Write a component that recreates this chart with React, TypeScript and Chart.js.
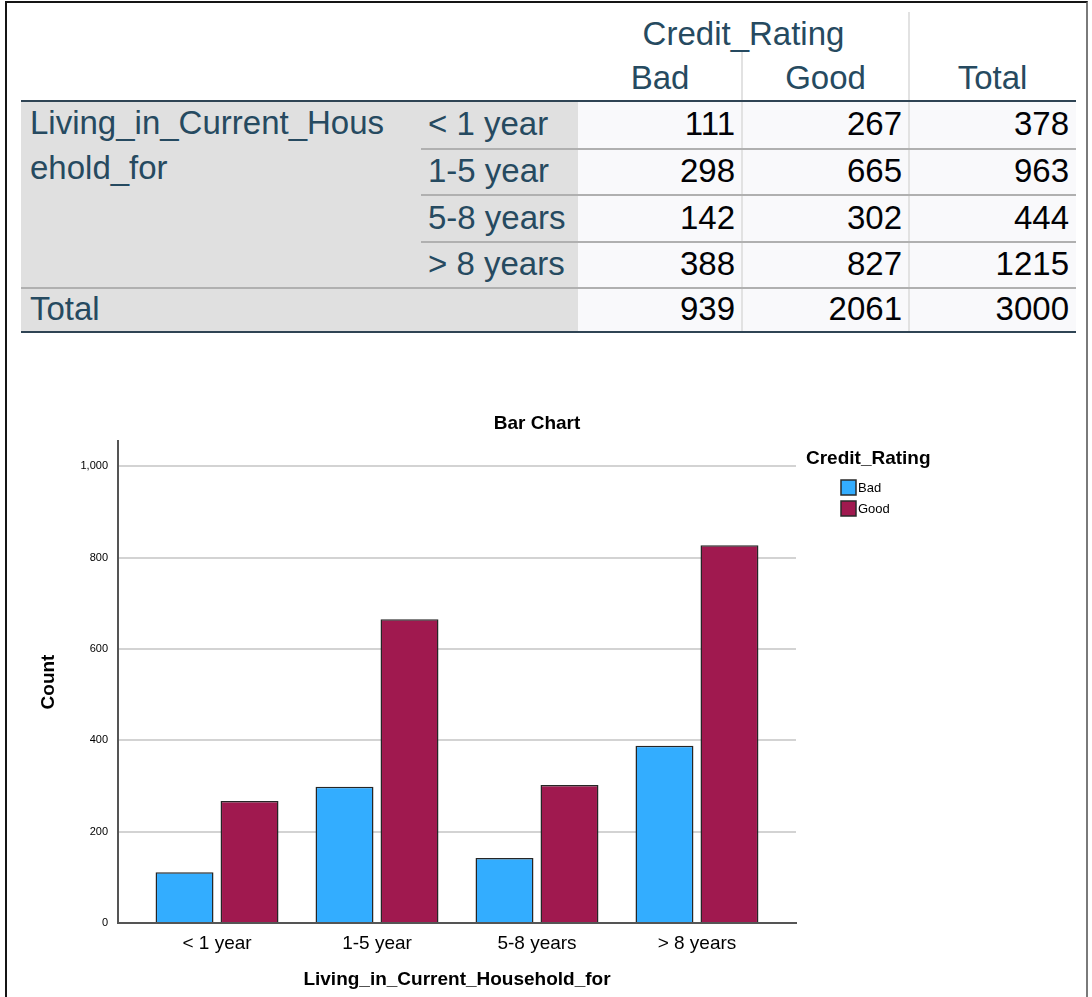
import React, { useEffect, useRef } from 'react';
import { Chart, registerables } from 'chart.js';

Chart.register(...registerables);

const FONT = 'Arial, "Liberation Sans", Helvetica, sans-serif';

// ---- data ----
const CATEGORIES = ['< 1 year', '1-5 year', '5-8 years', '> 8 years'];
const SERIES = ['Bad', 'Good'];
const BAD = [111, 298, 142, 388];
const GOOD = [267, 665, 302, 827];
const ROW_TOTALS = [378, 963, 444, 1215];
const COL_TOTALS = [939, 2061, 3000];
const Y_TICK_STEP = 200;
const Y_MAX = 1055;
const ROW_VAR_LINES = ['Living_in_Current_Hous', 'ehold_for'];
const COL_VAR = 'Credit_Rating';
const TOTAL_LABEL = 'Total';
const CHART_TITLE = 'Bar Chart';
const Y_TITLE = 'Count';
const X_TITLE = 'Living_in_Current_Household_for';
const COLORS = ['#33adff', '#a0194f'];

// ---- table layout ----
const COLX = [21, 421, 578, 742, 909, 1076];
const ROWY = [101, 149, 195, 242, 288, 332];
const HEAD_COLOR = '#264a60';
const TABLE_FONT = 33;

const abs = (left: number, top: number, width: number, height: number, extra: any = {}) => ({
  position: 'absolute' as const,
  left,
  top,
  width,
  height,
  ...extra,
});

function CrossTable() {
  const items: any[] = [];
  items.push(<div key="gbg" style={abs(COLX[0], ROWY[0], COLX[2] - COLX[0], ROWY[5] - ROWY[0], { background: '#e0e0e0' })} />);
  items.push(<div key="dbg" style={abs(COLX[2], ROWY[0], COLX[5] - COLX[2], ROWY[5] - ROWY[0], { background: '#f9f9fb' })} />);
  items.push(<div key="v1" style={abs(COLX[4] - 1, 12, 2, ROWY[5] - 12, { background: '#e2e2e2' })} />);
  items.push(<div key="v2" style={abs(COLX[3] - 1, 50, 2, ROWY[5] - 50, { background: '#e2e2e2' })} />);
  for (let i = 1; i < 4; i++) {
    items.push(<div key={'h' + i} style={abs(COLX[1], ROWY[i] - 1, COLX[5] - COLX[1], 2, { background: '#b0b0b0' })} />);
  }
  items.push(<div key="h4" style={abs(COLX[0], ROWY[4] - 1, COLX[5] - COLX[0], 2, { background: '#b0b0b0' })} />);
  items.push(<div key="h0" style={abs(COLX[0], ROWY[0] - 1, COLX[5] - COLX[0], 2, { background: '#2f4454' })} />);
  items.push(<div key="h5" style={abs(COLX[0], ROWY[5] - 1, COLX[5] - COLX[0], 2, { background: '#2f4454' })} />);

  const txt = { fontFamily: FONT, fontSize: TABLE_FONT, whiteSpace: 'nowrap' as const };
  items.push(
    <div key="cv" style={abs(COLX[2], 12, COLX[4] - COLX[2], 43, { ...txt, color: HEAD_COLOR, textAlign: 'center', lineHeight: '43px' })}>{COL_VAR}</div>
  );
  const heads = [...SERIES, TOTAL_LABEL];
  heads.forEach((h, j) => {
    items.push(
      <div key={'hd' + j} style={abs(COLX[2 + j], 55, COLX[3 + j] - COLX[2 + j], 46, { ...txt, color: HEAD_COLOR, textAlign: 'center', lineHeight: '46px' })}>{h}</div>
    );
  });
  items.push(
    <div key="rv" style={abs(COLX[0] + 9, ROWY[0] - 1, COLX[1] - COLX[0] - 9, 100, { ...txt, color: HEAD_COLOR, lineHeight: '45px' })}>
      {ROW_VAR_LINES.map((l, i) => (<div key={i}>{l}</div>))}
    </div>
  );
  CATEGORIES.forEach((c, i) => {
    const top = ROWY[i] - 1;
    const h = ROWY[i + 1] - ROWY[i];
    items.push(
      <div key={'rl' + i} style={abs(COLX[1] + 7, top, COLX[2] - COLX[1] - 7, h, { ...txt, color: HEAD_COLOR, lineHeight: h + 'px' })}>{c}</div>
    );
    const vals = [BAD[i], GOOD[i], ROW_TOTALS[i]];
    vals.forEach((v, j) => {
      items.push(
        <div key={'c' + i + '_' + j} style={abs(COLX[2 + j], top, COLX[3 + j] - COLX[2 + j] - 7, h, { ...txt, color: '#010205', textAlign: 'right', lineHeight: h + 'px' })}>{v}</div>
      );
    });
  });
  {
    const top = ROWY[4] - 1;
    const h = ROWY[5] - ROWY[4];
    items.push(
      <div key="tl" style={abs(COLX[0] + 9, top, 300, h, { ...txt, color: HEAD_COLOR, lineHeight: h + 'px' })}>{TOTAL_LABEL}</div>
    );
    COL_TOTALS.forEach((v, j) => {
      items.push(
        <div key={'t' + j} style={abs(COLX[2 + j], top, COLX[3 + j] - COLX[2 + j] - 7, h, { ...txt, color: '#010205', textAlign: 'right', lineHeight: h + 'px' })}>{v}</div>
      );
    });
  }
  return <>{items}</>;
}

const legendPlugin = {
  id: 'spssLegend',
  afterDraw(chart: any) {
    const { ctx, chartArea, width } = chart;
    ctx.save();
    ctx.textBaseline = 'middle';
    ctx.fillStyle = '#000';
    // chart title, centred on the whole canvas
    ctx.textAlign = 'center';
    ctx.font = `bold 19px ${FONT}`;
    ctx.fillText(CHART_TITLE, width / 2, chartArea.top - 17);
    // legend
    ctx.textAlign = 'left';
    ctx.fillText(COL_VAR, chartArea.right + 10, chartArea.top + 18);
    chart.data.datasets.forEach((ds: any, i: number) => {
      const bx = chartArea.right + 45;
      const by = chartArea.top + 39 + i * 21;
      ctx.fillStyle = ds.backgroundColor;
      ctx.fillRect(bx, by, 15, 15);
      ctx.strokeStyle = '#2a2a2a';
      ctx.lineWidth = 1.5;
      ctx.strokeRect(bx, by, 15, 15);
      ctx.fillStyle = '#000';
      ctx.font = `13px ${FONT}`;
      ctx.fillText(ds.label, bx + 17, by + 8);
    });
    ctx.restore();
  },
};

function BarChart() {
  const ref = useRef<HTMLCanvasElement | null>(null);
  useEffect(() => {
    if (!ref.current) return;
    const series = [BAD, GOOD];
    const chart = new Chart(ref.current, {
      type: 'bar',
      data: {
        datasets: series.map((arr, k) => ({
          label: SERIES[k],
          data: arr.map((y, i) => ({ x: i, y })),
          backgroundColor: COLORS[k],
          borderColor: '#262626',
          borderWidth: 1.5,
          categoryPercentage: 0.8125,
          barPercentage: 0.892,
        })),
      },
      options: {
        animation: false,
        responsive: true,
        maintainAspectRatio: false,
        layout: { padding: { left: 0, right: 248, top: 41, bottom: 0 } },
        plugins: {
          legend: { display: false },
          tooltip: { enabled: false },
          title: { display: false },
        },
        scales: {
          x: {
            type: 'linear',
            offset: false,
            min: -0.619,
            max: CATEGORIES.length - 1 + 0.619,
            grid: { display: false, drawTicks: false, offset: false },
            border: { display: true, color: '#555', width: 2 },
            afterBuildTicks: (s: any) => {
              s.ticks = CATEGORIES.map((_, i) => ({ value: i }));
            },
            afterFit: (s: any) => {
              s.height = 74;
            },
            ticks: {
              callback: (v: any) => CATEGORIES[v],
              color: '#000',
              font: { family: FONT, size: 19 },
              padding: 9,
              autoSkip: false,
              maxRotation: 0,
            },
            title: {
              display: true,
              text: X_TITLE,
              color: '#000',
              font: { family: FONT, size: 19, weight: 'bold' },
              padding: { top: 0, bottom: 6 },
            },
          },
          y: {
            min: 0,
            max: Y_MAX,
            afterBuildTicks: (s: any) => {
              s.ticks = s.ticks.filter((t: any) => t.value % Y_TICK_STEP === 0);
            },
            afterFit: (s: any) => {
              s.width = 88;
            },
            grid: { color: '#d3d3d3', lineWidth: 2, drawTicks: false },
            border: { color: '#555', width: 2 },
            ticks: {
              stepSize: Y_TICK_STEP,
              color: '#000',
              font: { family: FONT, size: 11 },
              padding: 10,
            },
            title: {
              display: true,
              text: Y_TITLE,
              color: '#000',
              font: { family: FONT, size: 19, weight: 'bold' },
              padding: { top: 7, bottom: 4 },
            },
          },
        },
      } as any,
      plugins: [legendPlugin],
    });
    return () => chart.destroy();
  }, []);
  return (
    <div style={{ position: 'absolute', left: 30, top: 400, width: 1014, height: 597 }}>
      <canvas ref={ref} />
    </div>
  );
}

export default function App() {
  return (
    <div style={{ position: 'absolute', left: 0, top: 0, width: 1092, height: 997, overflow: 'hidden', background: '#fff' }}>
      <div
        style={{
          position: 'absolute',
          left: 5,
          top: 1,
          width: 1079,
          height: 1020,
          borderLeft: '2px solid #151515',
          borderTop: '2px solid #151515',
          borderRight: '2px solid #7a7a7a',
        }}
      />
      <CrossTable />
      <BarChart />
    </div>
  );
}
